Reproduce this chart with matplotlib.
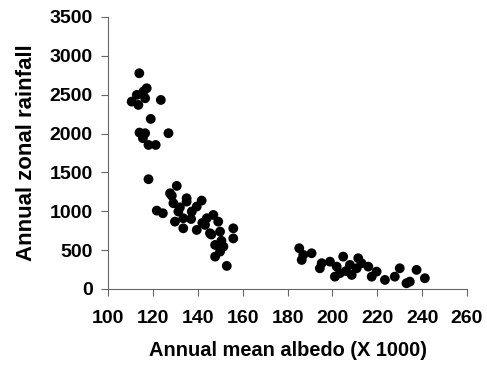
import matplotlib
matplotlib.use("Agg")
from matplotlib import pyplot as plt

plt.rcParams['font.family'] = ['Liberation Sans', 'DejaVu Sans']

# albedo (x 1000) and zonal rainfall
albedo = [113.9, 117.2, 115.7, 112.8, 110.5, 113.5, 116.5, 123.5, 119.0, 114.0,
          116.5, 126.9, 115.5, 118.0, 121.2, 118.0,
          130.6, 127.6, 121.7, 124.4, 129.1, 135.0, 141.7, 131.3, 137.3, 139.5,
          133.5, 129.8, 133.5, 139.5, 144.0, 146.9, 149.1, 143.2, 145.4, 149.9,
          155.8, 155.8, 147.7, 151.4, 147.7, 149.9, 152.9, 128.4, 135.0, 132.0,
          137.0, 142.0, 146.0, 150.5,
          185.2, 187.0, 186.3, 190.7, 195.2, 194.4, 198.9, 201.9, 204.8, 203.3,
          201.1, 207.8, 208.6, 211.5, 210.8, 216.0, 217.5, 219.7, 223.4, 227.8,
          230.0, 233.0, 234.5, 237.5, 241.2, 206.0, 213.0]
rainfall = [2776, 2583, 2540, 2497, 2411, 2368, 2454, 2432, 2188, 2012,
            2004, 2004, 1940, 1853, 1853, 1412,
            1326, 1231, 1008, 974, 1103, 1124, 1137, 996, 996, 1060,
            910, 866, 780, 759, 910, 952, 866, 824, 717, 738,
            780, 650, 566, 545, 416, 480, 296, 1200, 1167,
            1050, 900, 850, 700, 620,
            524, 438, 373, 459, 331, 266, 351, 287, 416, 202,
            158, 309, 180, 395, 266, 287, 158, 223, 116, 158,
            266, 73, 94, 245, 138, 230, 330]

fig = plt.figure(figsize=(4.87, 3.69), dpi=100)
ax = fig.add_axes([0.222, 0.217, 0.737, 0.737])

ax.scatter(albedo, rainfall, s=50, c='black', edgecolors='none')

ax.set_xlim(100, 260)
ax.set_ylim(0, 3500)
ax.set_xticks(range(100, 261, 20))
ax.set_yticks(range(0, 3501, 500))

for side in ['top', 'right']:
    ax.spines[side].set_visible(False)
for side in ['left', 'bottom']:
    ax.spines[side].set_color('#666666')
ax.tick_params(direction='out', length=5, color='#666666', labelsize=14)
ax.tick_params(axis='x', pad=10)
ax.tick_params(axis='y', pad=6)
for lbl in ax.get_xticklabels() + ax.get_yticklabels():
    lbl.set_fontweight('bold')

ax.set_xlabel('Annual mean albedo (X 1000)', fontsize=14.4, fontweight='bold', labelpad=10)
ax.set_ylabel('Annual zonal rainfall', fontsize=16, fontweight='bold', labelpad=9)

plt.savefig("out.png", dpi=100)
